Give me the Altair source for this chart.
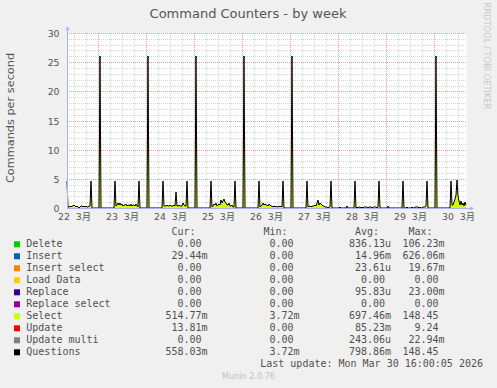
import altair as alt
import pandas as pd

# ---------------- data ----------------
START = "2026-03-22 08:30"
LAST = "2026-03-30 16:00"
TITLE = "Command Counters - by week"
Y_TITLE = "Commands per second"

big_spike_times = ["2026-03-23 01:00", "2026-03-24 01:00", "2026-03-25 01:00",
                   "2026-03-26 01:00", "2026-03-27 01:00", "2026-03-30 01:00"]
big_spike_select = [26.0, 26.0, 26.0, 26.0, 26.0, 26.0]

small_spike_times = ["2026-03-22 08:30", "2026-03-22 20:30", "2026-03-23 08:30", "2026-03-23 20:30",
                     "2026-03-24 08:30", "2026-03-24 20:30", "2026-03-25 08:30", "2026-03-25 20:30",
                     "2026-03-26 08:30", "2026-03-26 20:30", "2026-03-27 08:30", "2026-03-27 20:30",
                     "2026-03-28 08:30", "2026-03-28 20:30", "2026-03-29 08:30", "2026-03-29 20:30",
                     "2026-03-30 08:30"]
small_spike_select = [2.7, 2.7, 2.7, 2.7, 2.7, 2.7, 2.7, 2.7, 2.7, 2.7, 2.7, 2.7, 2.7, 2.7, 2.7, 2.7, 2.7]
small_spike_update = [2.0, 2.0, 2.0, 2.0, 2.0, 2.0, 2.0, 2.0, 2.0, 2.0, 2.0, 2.0, 2.0, 2.0, 2.0, 2.0, 2.0]

night_blip_times = ["2026-03-28 01:00", "2026-03-28 04:30", "2026-03-29 01:00"]
night_blip_select = [0.2, 0.3, 0.3]

day_start_times = ["2026-03-22 09:00", "2026-03-23 09:00", "2026-03-24 09:00", "2026-03-25 09:00",
                   "2026-03-26 09:00", "2026-03-27 09:00", "2026-03-28 09:00", "2026-03-29 09:00",
                   "2026-03-30 09:00"]
day_select = [
    [0.1, 0.2, 0.3, 0.2, 0.3, 0.4, 0.5, 0.3, 0.2, 0.3, 0.1, 0.0, 0.1, 0.3, 0.3, 0.2, 0.3, 0.2, 0.3, 0.2, 0.1, 0.3, 0.4],
    [0.3, 0.5, 0.9, 0.6, 0.8, 0.5, 0.7, 0.4, 0.6, 0.5, 0.7, 0.4, 0.5, 0.6, 0.4, 0.7, 0.3, 0.5, 0.6, 0.4, 0.7, 0.3, 0.2],
    [0.3, 0.4, 0.3, 0.5, 0.4, 0.3, 0.5, 0.4, 0.3, 0.4, 0.5, 0.4, 2.7, 0.4, 0.3, 0.5, 0.4, 0.3, 0.4, 0.8, 0.5, 0.4, 0.3],
    [0.2, 0.4, 0.7, 0.5, 0.8, 0.4, 0.6, 0.7, 0.5, 1.3, 0.8, 1.2, 1.5, 1.1, 0.9, 0.6, 0.5, 0.8, 0.4, 0.3, 0.5, 0.2, 0.1],
    [0.2, 0.4, 0.5, 0.8, 0.6, 0.7, 0.5, 0.6, 0.4, 0.7, 0.5, 0.3, 0.4, 0.2, 0.3, 0.2, 0.3, 0.2, 0.2, 0.3, 0.2, 0.3, 0.2],
    [0.1, 0.3, 0.3, 0.2, 0.3, 0.4, 0.3, 0.6, 0.4, 0.8, 1.3, 0.6, 0.8, 0.7, 0.5, 0.3, 0.4, 0.2, 0.1, 0.1, 0.0, 0.1, 0.1],
    [0.0, 0.1, 0.0, 0.2, 0.1, 0.0, 0.1, 0.0, 0.1, 0.2, 0.1, 0.1, 0.0, 0.1, 0.2, 0.1, 0.0, 0.1, 0.1, 0.2, 0.1, 0.0, 0.1],
    [0.0, 0.0, 0.0, 0.1, 0.0, 0.0, 0.0, 0.0, 0.1, 0.0, 0.0, 0.1, 0.2, 0.2, 0.1, 0.0, 0.1, 0.0, 0.0, 0.1, 0.1, 0.2, 0.3],
    [0.5, 0.6, 1.0, 1.5, 2.2, 4.8, 2.0, 1.2, 0.6, 1.2, 0.5, 0.8, 0.4, 1.0, 0.6],
]

y_ticks = [0, 5, 10, 15, 20, 25, 30]
x_tick_days = [22, 23, 24, 25, 26, 27, 28, 29, 30]
month_label = "3月"

legend_names = ["Delete", "Insert", "Insert select", "Load Data", "Replace",
                "Replace select", "Select", "Update", "Update multi", "Questions"]
legend_colors = ["#00cc00", "#0066b3", "#ff8000", "#ffcc00", "#330099",
                 "#990099", "#ccff00", "#ff0000", "#808080", "#000000"]
cur_vals = ["0.00", "29.44m", "0.00", "0.00", "0.00", "0.00", "514.77m", "13.81m", "0.00", "558.03m"]
min_vals = ["0.00", "0.00", "0.00", "0.00", "0.00", "0.00", "3.72m", "0.00", "0.00", "3.72m"]
avg_vals = ["836.13u", "14.96m", "23.61u", "0.00", "95.83u", "0.00", "697.46m", "85.23m", "243.06u", "798.86m"]
max_vals = ["106.23m", "626.06m", "19.67m", "0.00", "23.00m", "0.00", "148.45", "9.24", "22.94m", "148.45"]
last_update = "Last update: Mon Mar 30 16:00:05 2026"
munin_version = "Munin 2.0.76"
rrd_credit = "RRDTOOL / TOBI OETIKER"

# ---------------- build tables ----------------
slots = pd.date_range(START, LAST, freq="30min")
sel = pd.Series(0.0, index=slots)
upd = pd.Series(0.0, index=slots)
for t, v in zip(big_spike_times, big_spike_select):
    sel[pd.Timestamp(t)] = v
for t, s, u in zip(small_spike_times, small_spike_select, small_spike_update):
    sel[pd.Timestamp(t)] = s
    upd[pd.Timestamp(t)] = u
for t, v in zip(night_blip_times, night_blip_select):
    sel[pd.Timestamp(t)] = v
for t0, vals in zip(day_start_times, day_select):
    idx = pd.date_range(t0, periods=len(vals), freq="30min")
    sel.loc[idx] = vals

tstr = slots.strftime("%Y-%m-%dT%H:%M:%S")
area_df = pd.concat([
    pd.DataFrame({"time": tstr, "value": sel.values, "ord": 0, "color": "#ccff00"}),
    pd.DataFrame({"time": tstr, "value": upd.values, "ord": 1, "color": "#ff0000"}),
])
line_df = pd.DataFrame({"time": tstr, "value": (sel + upd).values})

minor_v = [t.strftime("%Y-%m-%dT%H:%M:%S")
           for t in pd.date_range("2026-03-22 12:00", "2026-03-30 12:00", freq="6h") if t.hour != 0]
major_v = [t.strftime("%Y-%m-%dT%H:%M:%S") for t in pd.date_range("2026-03-23", "2026-03-30", freq="D")]
minor_h = [v for v in range(1, 30) if v % 5]
major_h = [5, 10, 15, 20, 25, 30]

# ---------------- scales ----------------
W, H = 400, 175
xsc = alt.Scale(domain=[alt.DateTime(year=2026, month=3, date=22, hours=8, minutes=30),
                        alt.DateTime(year=2026, month=3, date=30, hours=16, minutes=30)], round=True)
ysc = alt.Scale(domain=[0, 30], round=True)
FONT = "DejaVu Sans, Noto Sans CJK JP"
TXT = "#555555"

xaxis = alt.Axis(values=[alt.DateTime(year=2026, month=3, date=d, hours=12) for d in x_tick_days],
                 labelExpr="timeFormat(datum.value, '%d') + '\u00a0\u00a0" + month_label + "'",
                 grid=False, ticks=False, domain=False, labelPadding=4, labelFont=FONT,
                 labelFontSize=9.3, labelColor=TXT, labelFlush=False, labelOverlap=False, title=None)
yaxis = alt.Axis(values=y_ticks, grid=False, ticks=False, domain=False, labelPadding=8,
                 labelFont=FONT, labelFontSize=9.3, labelColor=TXT, title=None)


def vrule(times, color):
    return alt.Chart(pd.DataFrame({"time": times})).mark_rule(
        color=color, strokeDash=[1, 1], strokeWidth=1, opacity=1, xOffset=0.5).encode(
        x=alt.X("time:T", scale=xsc, axis=xaxis), y=alt.value(0), y2=alt.value(H))


def hrule(vals, color):
    return alt.Chart(pd.DataFrame({"value": vals})).mark_rule(
        color=color, strokeDash=[1, 1], strokeWidth=1, opacity=1, yOffset=0.5).encode(
        y=alt.Y("value:Q", scale=ysc, axis=yaxis), x=alt.value(0), x2=alt.value(W))


area = alt.Chart(area_df).mark_area(interpolate="linear").encode(
    x=alt.X("time:T", scale=xsc, axis=xaxis),
    y=alt.Y("value:Q", stack="zero", scale=ysc, axis=yaxis),
    color=alt.Color("color:N", scale=None),
    order=alt.Order("ord:Q"),
)
line = alt.Chart(line_df).mark_line(color="black", strokeWidth=1).encode(
    x=alt.X("time:T", scale=xsc, axis=xaxis), y=alt.Y("value:Q", scale=ysc, axis=yaxis))

plot = alt.layer(
    vrule(minor_v, "#d6d6d6"), hrule(minor_h, "#d6d6d6"),
    vrule(major_v, "#eea0a0"), hrule(major_h, "#eea0a0"),
    area, line,
)

one = pd.DataFrame({"k": [0]})
AX = "#a8b0f0"
axes = alt.layer(
    alt.Chart(one).mark_rule(color=AX).encode(x=alt.value(0.5), y=alt.value(H + 0.5), y2=alt.value(-4)),
    alt.Chart(one).mark_rule(color=AX).encode(x=alt.value(0), x2=alt.value(404), y=alt.value(H + 0.5)),
    alt.Chart(one).mark_point(shape="triangle-up", filled=True, color=AX, size=18, opacity=1).encode(
        x=alt.value(0.5), y=alt.value(-5)),
    alt.Chart(one).mark_point(shape="triangle-right", filled=True, color=AX, size=18, opacity=1).encode(
        x=alt.value(405), y=alt.value(H + 0.5)),
)


def label(text, x, y, **kw):
    return alt.Chart(pd.DataFrame({"s": [text]})).mark_text(**kw).encode(
        text="s:N", x=alt.value(x), y=alt.value(y))


decor = alt.layer(
    label(TITLE, 181, -19, font=FONT, fontSize=13, color=TXT, align="center", baseline="middle"),
    label(Y_TITLE, -56, 85, font=FONT, fontSize=11.3, color=TXT, align="center", baseline="middle", angle=270),
    label(rrd_credit, 419, 23, font=FONT, fontSize=8.3, color="#c8c8c8", align="center", baseline="middle", angle=90),
    label(munin_version, 181.5, 344, font=FONT, fontSize=8.1, color="#c0c0c0", align="center", baseline="middle"),
)

# legend table
def split(v):
    return (v[:-1], v[-1]) if v[-1].isalpha() else (v, "")

leg_df = pd.DataFrame({"row": list(range(len(legend_names))), "name": legend_names, "color": legend_colors})
for key, vals in (("cur", cur_vals), ("min", min_vals), ("avg", avg_vals), ("max", max_vals)):
    leg_df[key + "_n"] = [split(v)[0] for v in vals]
    leg_df[key + "_s"] = [split(v)[1] for v in vals]

rowy = alt.Y("row:Q", scale=alt.Scale(domain=[0, 9], range=[211.3, 319.3]), axis=None)
MONO = dict(font="DejaVu Sans Mono", fontSize=10, color="#505050", baseline="middle")
base = alt.Chart(leg_df)
leg_layers = [
    base.mark_square(size=36, filled=True, opacity=1).encode(
        x=alt.value(-50), y=rowy, color=alt.Color("color:N", scale=None)),
    base.mark_text(align="left", **MONO).encode(x=alt.value(-40.7), y=rowy, text="name:N"),
]
col_end = {"cur": 134.5, "min": 226.5, "avg": 318, "max": 371.5}
headers = {"cur": "Cur:", "min": "Min:", "avg": "Avg:", "max": "Max:"}
for key, xe in col_end.items():
    leg_layers.append(base.mark_text(align="right", **MONO).encode(
        x=alt.value(xe), y=rowy, text=key + "_n:N"))
    leg_layers.append(base.mark_text(align="left", **MONO).encode(
        x=alt.value(xe), y=rowy, text=key + "_s:N"))
    leg_layers.append(alt.Chart(pd.DataFrame({"row": [-1], "s": [headers[key]]})).mark_text(
        align="left", **MONO).encode(x=alt.value(xe - 30), y=rowy, text="s:N"))
leg_layers.append(alt.Chart(pd.DataFrame({"row": [10], "s": [last_update]})).mark_text(
    align="right", **MONO).encode(x=alt.value(416), y=rowy, text="s:N"))
legend = alt.layer(*leg_layers)

chart = alt.layer(plot, axes, decor, legend).resolve_scale(y="independent").properties(
    width=W, height=H,
    autosize=alt.AutoSizeParams(type="none"),
    padding={"left": 67, "top": 33, "right": 30, "bottom": 180},
    background="#f0f0f0",
).configure_view(fill="white", stroke=None)

chart.save("out.html", embed_options={"renderer": "svg", "actions": False})
